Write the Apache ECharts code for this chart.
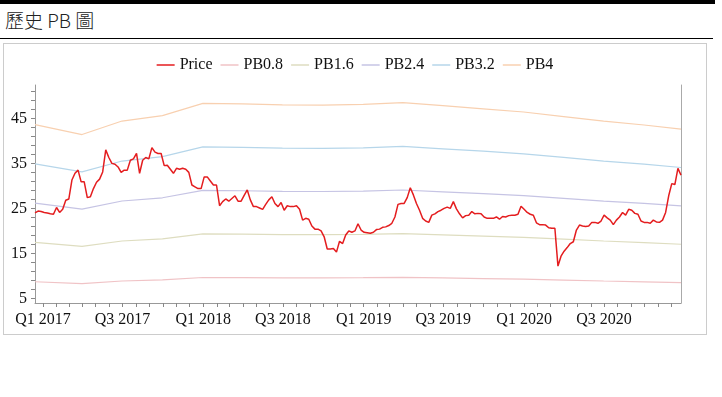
<!DOCTYPE html>
<html>
<head>
<meta charset="utf-8">
<script src="https://cdn.jsdelivr.net/npm/echarts@6/dist/echarts.min.js"></script>
<style>
  body { margin: 0; background: #fff; width: 722px; height: 397px; overflow: hidden; position: relative; }
  #topbar { position: absolute; left: 0; top: 0; width: 715px; height: 4px; background: #000; }
  #title { position: absolute; left: 5px; top: 6px; font: 300 19px "Noto Sans CJK TC", sans-serif; color: #222; }
  #rule { position: absolute; left: 0; top: 38px; width: 713px; height: 1px; background: #000; }
  #box { position: absolute; left: 3px; top: 43px; width: 702px; height: 290px; border: 1px solid #ccc; }
  #chart { width: 702px; height: 290px; }
</style>
</head>
<body>
<div id="topbar"></div>
<div id="title">歷史 PB 圖</div>
<div id="rule"></div>
<div id="box"><div id="chart"></div></div>
<script>
// weekly closing price, first week 2016-12-14
const priceStart = [2016, 11, 14];
const price = [
  24.0, 24.4, 24.3, 24.1, 24.0, 23.8, 23.7, 25.2, 24.1, 24.8,
  26.8, 27.1, 31.3, 32.8, 33.5, 30.9, 30.9, 27.4, 27.6, 29.4,
  30.8, 31.5, 33.1, 38.0, 36.3, 35.0, 34.8, 34.2, 33.0, 33.5,
  33.5, 35.7, 36.0, 37.2, 32.8, 35.7, 36.3, 36.0, 38.5, 37.5,
  37.2, 37.2, 34.5, 34.6, 33.7, 32.8, 33.9, 33.7, 33.9, 33.7,
  33.0, 30.2, 29.8, 29.4, 29.4, 32.0, 32.0, 31.1, 30.2, 30.2,
  25.6, 26.5, 27.1, 26.6, 27.2, 27.8, 26.6, 26.6, 27.9, 29.1,
  26.9, 25.4, 25.4, 25.1, 24.8, 25.9, 26.9, 27.6, 26.1, 25.4,
  26.3, 24.6, 25.6, 25.4, 25.4, 25.6, 24.8, 22.4, 22.8, 22.6,
  21.1, 20.4, 20.4, 20.0, 18.7, 16.0, 16.0, 16.1, 15.3, 17.7,
  17.2, 19.1, 20.0, 19.7, 20.0, 21.6, 20.2, 19.7, 19.6, 19.5,
  19.7, 20.3, 20.4, 20.8, 20.9, 21.2, 21.7, 23.1, 25.9, 26.1,
  26.1, 27.4, 29.6, 28.0, 26.1, 24.6, 22.8, 22.2, 21.9, 23.5,
  23.8, 24.3, 24.6, 25.0, 25.3, 25.0, 26.5, 24.9, 23.8, 22.9,
  23.4, 23.5, 24.3, 23.8, 23.9, 23.8, 23.1, 22.8, 22.8, 22.8,
  23.1, 22.6, 23.2, 23.1, 23.4, 23.5, 23.5, 23.7, 25.5, 24.8,
  24.1, 23.7, 23.5, 21.8, 21.4, 21.4, 21.3, 20.7, 20.6, 20.6,
  12.2, 14.4, 15.5, 16.3, 17.2, 17.6, 20.2, 21.3, 21.1, 21.0,
  21.1, 21.9, 21.9, 21.7, 22.2, 23.5, 22.9, 22.4, 21.4, 22.4,
  23.1, 24.1, 23.5, 24.8, 24.6, 23.9, 23.7, 22.2, 21.9, 21.9,
  21.7, 22.4, 22.0, 21.9, 22.4, 24.1, 27.8, 30.5, 30.3, 33.9,
  32.4
];

// PB band dates (book value updates)
const bandDates = [
  '2016-12-14', '2017-03-31', '2017-06-30', '2017-09-30', '2017-12-31',
  '2018-03-31', '2018-06-30', '2018-09-30', '2018-12-31', '2019-03-31',
  '2019-06-30', '2019-09-30', '2019-12-31', '2020-03-31', '2020-06-30',
  '2020-09-30', '2020-12-23'
];
const pb08 = [8.72, 8.28, 8.88, 9.12, 9.66, 9.64, 9.60, 9.58, 9.62, 9.70, 9.56, 9.42, 9.28, 9.08, 8.88, 8.70, 8.52];
const pb16 = [17.44, 16.56, 17.76, 18.24, 19.33, 19.28, 19.20, 19.17, 19.23, 19.39, 19.12, 18.85, 18.56, 18.16, 17.76, 17.41, 17.04];
const pb24 = [26.16, 24.84, 26.64, 27.36, 28.99, 28.92, 28.80, 28.75, 28.85, 29.09, 28.68, 28.27, 27.84, 27.24, 26.64, 26.11, 25.56];
const pb32 = [34.88, 33.12, 35.52, 36.48, 38.66, 38.56, 38.40, 38.34, 38.46, 38.78, 38.24, 37.70, 37.12, 36.32, 35.52, 34.82, 34.08];
const pb40 = [43.60, 41.40, 44.40, 45.60, 48.32, 48.20, 48.00, 47.92, 48.08, 48.48, 47.80, 47.12, 46.40, 45.40, 44.40, 43.52, 42.60];

// x axis labels
const xLabelDates = ['2017-01-01', '2017-07-01', '2018-01-01', '2018-07-01', '2019-01-01', '2019-07-01', '2020-01-01', '2020-07-01'];
const xLabels = ['Q1 2017', 'Q3 2017', 'Q1 2018', 'Q3 2018', 'Q1 2019', 'Q3 2019', 'Q1 2020', 'Q3 2020'];
const yLabels = [5, 15, 25, 35, 45];

const seriesNames = ['Price', 'PB0.8', 'PB1.6', 'PB2.4', 'PB3.2', 'PB4'];
const seriesColors = ['#e41d1f', '#f0c3c6', '#deddc0', '#c6c4e4', '#b6d6ea', '#f8d0b0'];

const ts = s => { const p = s.split('-'); return new Date(+p[0], +p[1] - 1, +p[2]).getTime(); };
const dayAt = i => new Date(priceStart[0], priceStart[1], priceStart[2] + 7 * i).getTime();

const priceData = price.map((v, i) => [dayAt(i), v]);
const band = arr => arr.map((v, i) => [ts(bandDates[i]), v]);

const labelStamps = xLabelDates.map(ts);
const monthStamps = [];
for (let y = 2017; y <= 2020; y++) {
  for (let m = 0; m < 12; m++) monthStamps.push(new Date(y, m, 1).getTime());
}
const yTicks = [];
for (let v = 5; v <= 52; v += 2) yTicks.push(v);

const serif = '"Liberation Serif", "Times New Roman", serif';

const chart = echarts.init(document.getElementById('chart'));
chart.setOption({
  animation: false,
  legend: {
    top: 8,
    left: 'center',
    icon: 'rect',
    itemWidth: 18,
    itemHeight: 1.5,
    itemGap: 8,
    textStyle: { fontFamily: serif, fontSize: 16, color: '#111' },
    data: seriesNames
  },
  grid: { left: 31, right: 25, top: 41, bottom: 31 },
  xAxis: {
    type: 'value',
    min: dayAt(0),
    max: dayAt(price.length - 1),
    splitLine: { show: false },
    axisLine: { lineStyle: { color: '#999' } },
    axisTick: { customValues: monthStamps, length: 4, lineStyle: { color: '#888' } },
    axisLabel: {
      customValues: labelStamps,
      formatter: v => {
        let best = 0;
        labelStamps.forEach((s, i) => { if (Math.abs(s - v) < Math.abs(labelStamps[best] - v)) best = i; });
        return xLabels[best];
      },
      fontFamily: serif, fontSize: 16, color: '#111', margin: 9
    }
  },
  yAxis: [{
    type: 'value',
    min: 4,
    max: 52.4,
    splitLine: { show: false },
    axisLine: { show: true, lineStyle: { color: '#999' } },
    axisTick: { show: true, customValues: yTicks, length: 4, lineStyle: { color: '#888' } },
    axisLabel: { customValues: yLabels, fontFamily: serif, fontSize: 16, color: '#111', margin: 8 }
  }, {
    // right-hand frame line only
    type: 'value',
    position: 'right',
    min: 4,
    max: 52.4,
    splitLine: { show: false },
    axisLine: { show: true, lineStyle: { color: '#aaa' } },
    axisTick: { show: false },
    axisLabel: { show: false }
  }],
  series: [
    { name: 'Price', type: 'line', data: priceData, z: 5 },
    { name: 'PB0.8', type: 'line', data: band(pb08) },
    { name: 'PB1.6', type: 'line', data: band(pb16) },
    { name: 'PB2.4', type: 'line', data: band(pb24) },
    { name: 'PB3.2', type: 'line', data: band(pb32) },
    { name: 'PB4', type: 'line', data: band(pb40) }
  ].map((s, i) => Object.assign(s, {
    symbol: 'none',
    color: seriesColors[i],
    lineStyle: { width: i === 0 ? 1.5 : 1.2, color: seriesColors[i] }
  }))
});
</script>
</body>
</html>
